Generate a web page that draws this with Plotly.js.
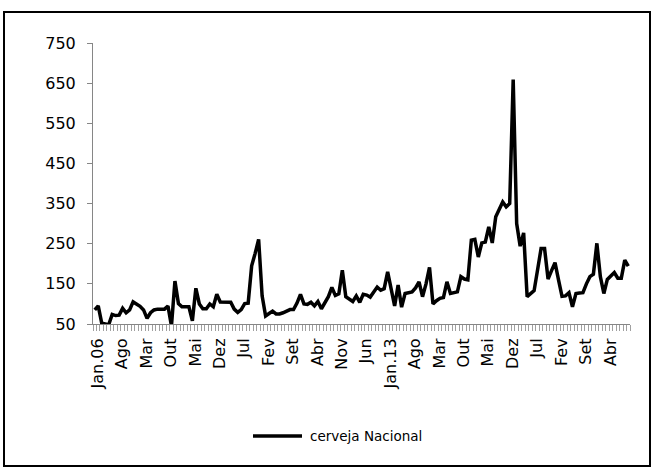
<!DOCTYPE html>
<html><head><meta charset="utf-8">
<script src="https://cdn.plot.ly/plotly-3.0.1.min.js"></script>
<style>html,body{margin:0;padding:0;background:#fff}#chart{width:654px;height:469px}</style>
</head><body><div id="chart"></div>
<script>
const monthNames = ['Jan','Fev','Mar','Abr','Mai','Jun','Jul','Ago','Set','Out','Nov','Dez'];
const startYear = 2006;
const seriesName = 'cerveja Nacional';
const values = [
  85, 95, 52, 50, 48, 74, 71, 72, 89, 78, 85,105,
 100, 94, 85, 64, 78, 85, 87, 87, 87, 95, 45,157,
 101, 93, 93, 93, 58,139,100, 88, 88,100, 93,124,
 105,104,104,104, 87, 79, 86,101,102,195,226,261,
 120, 70, 76, 82, 75, 75, 78, 81, 86, 86,102,124,
 100, 99,104, 95,106, 88,104,118,141,121,125,184,
 118,112,106,120,104,124,122,117,130,142,134,138,
 180,138, 95,147, 92,126,128,130,140,155,118,150,
 191,100,108,114,116,155,126,128,130,168,162,160,
 259,261,217,252,254,292,252,317,335,354,342,350,
 659,300,244,277,118,125,133,185,238,238,162,183,
 203,160,119,120,128, 93,126,127,128,150,168,174,
 251,168,126,161,170,178,164,164,209,194
];
const tickLabels = ['Jan.06','Ago','Mar','Out','Mai','Dez','Jul','Fev','Set','Abr','Nov',
                    'Jun','Jan.13','Ago','Mar','Out','Mai','Dez','Jul','Fev','Set','Abr'];
const tickEvery = 7;
const yTicks = [50,150,250,350,450,550,650,750];

const categories = values.map((v,i) => monthNames[i%12] + '.' + String((startYear + Math.floor(i/12)) % 100).padStart(2,'0'));
const xIdx = categories.map((c,i) => i);
const tickVals = tickLabels.map((t,k) => k*tickEvery);

const font = 'DejaVu Sans, Verdana, sans-serif';
const lineColor = '#000000', lineWidth = 3.5;
const trace = {
  x: xIdx, y: values, text: categories, type: 'scatter', mode: 'lines', name: seriesName,
  line: {color: lineColor, width: lineWidth}, hoverinfo: 'text+y', showlegend: false
};
const W = 654, H = 469, ml = 93, mr = 24, mt = 43, mb = 145;
const pw = W - ml - mr, ph = H - mt - mb;
const px = x => (x - ml) / pw, py = y => (H - mb - y) / ph;
const layout = {
  width: W, height: H,
  margin: {l: ml, r: mr, t: mt, b: mb, pad: 0},
  paper_bgcolor: '#ffffff', plot_bgcolor: '#ffffff',
  showlegend: false,
  xaxis: {
    range: [-0.5, values.length - 0.5], tickvals: tickVals, ticktext: tickLabels,
    tickangle: -90, ticks: '', showline: true, linecolor: '#868686', linewidth: 1,
    showgrid: false, zeroline: false, ticklabelstandoff: 7, ticklabelshift: 3,
    tickfont: {family: font, size: 16, color: '#000'},
    minor: {ticks: 'outside', tick0: 0.5, dtick: 1, ticklen: 6, tickcolor: '#a0a0a0', tickwidth: 1, showgrid: false}
  },
  yaxis: {
    range: [50, 750], tickvals: yTicks, ticks: 'outside', ticklen: 5, tickcolor: '#868686',
    showline: true, linecolor: '#868686', linewidth: 1, showgrid: false, zeroline: false,
    ticklabelstandoff: 8, tickfont: {family: font, size: 16, color: '#000'}
  },
  shapes: [
    {type: 'rect', xref: 'paper', yref: 'paper', x0: px(4), x1: px(650), y0: py(466), y1: py(12),
     line: {color: '#000', width: 2}, fillcolor: 'rgba(0,0,0,0)'},
    {type: 'line', xref: 'paper', yref: 'paper', x0: px(253), x1: px(302), y0: py(436), y1: py(436),
     line: {color: lineColor, width: lineWidth}}
  ],
  annotations: [
    {xref: 'paper', yref: 'paper', x: px(308), y: py(436), xanchor: 'left', yanchor: 'middle',
     text: seriesName, showarrow: false, font: {family: font, size: 13.5, color: '#000'}}
  ]
};
Plotly.newPlot('chart', [trace], layout, {displayModeBar: false, staticPlot: true});
</script></body></html>
